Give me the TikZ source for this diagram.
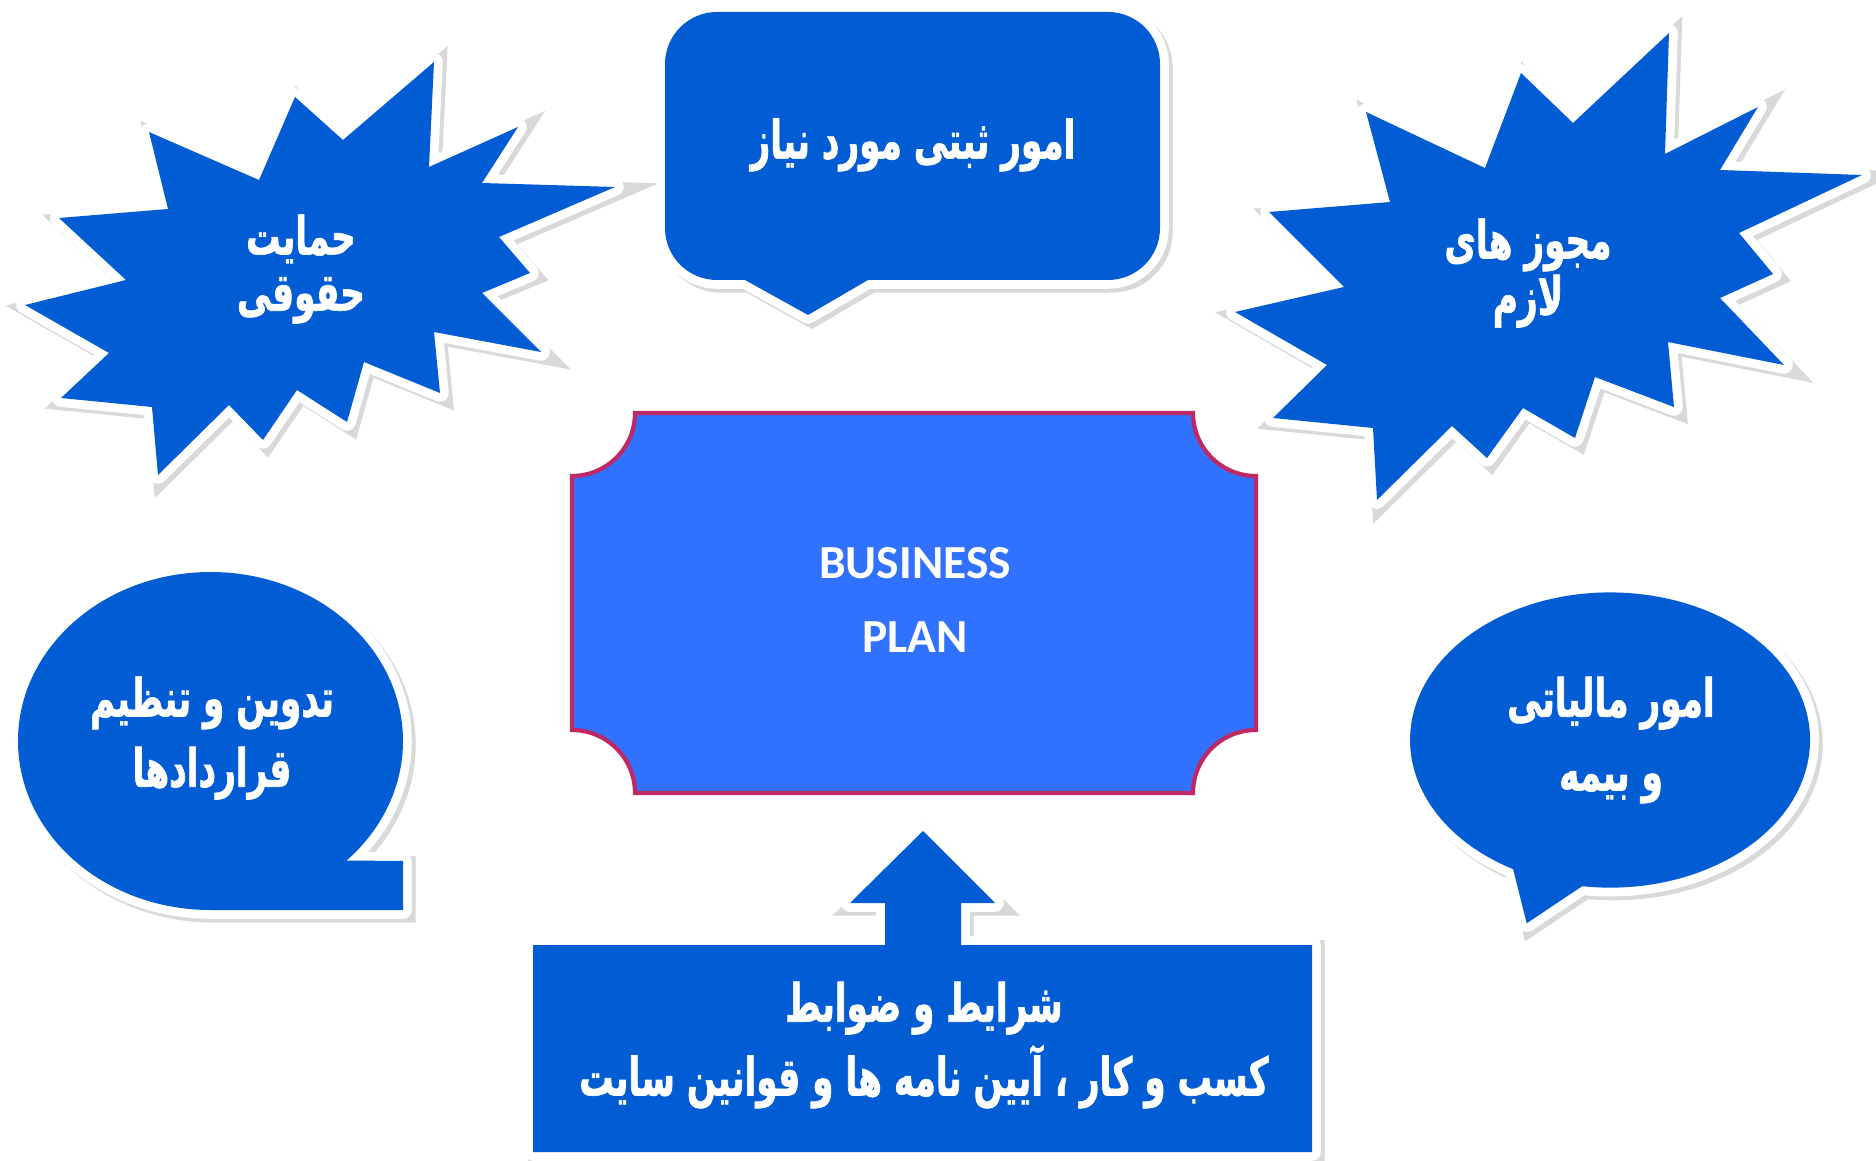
\documentclass[tikz,border=0pt]{standalone}
\usepackage{fontspec}
\usepackage{tikz}
\TeXXeTstate=1
\newfontfamily\farsifont[Script=Arabic, FakeStretch=0.65, FakeBold=1.2]{DejaVu Sans}
\newfontfamily\planfont{Carlito}
\definecolor{calloutblue}{RGB}{2,92,212}
\definecolor{plaqueblue}{RGB}{48,113,255}
\definecolor{plaquerim}{RGB}{190,40,100}

\begin{document}
\begin{tikzpicture}[
        bubble/.style={fill=calloutblue, draw=white, line width=5pt, line join=round,
            preaction={draw=black!15, fill=black!15, line width=5pt, transform canvas={xshift=1.1pt, yshift=-1.1pt}},
            postaction={fill=calloutblue}},
        plaque/.style={fill=plaqueblue, draw=plaquerim, line width=1.2pt},
        fatext/.style={text=white, align=center, font=\farsifont\bfseries\fontsize{15}{#1}\selectfont}
    ]
        \useasboundingbox (0,0) rectangle (18.76,-11.61);

        % Left burst
        \draw[bubble] (4.34,-0.62) -- (4.29,-1.67) -- (5.18,-1.27) -- (4.82,-1.83) -- (6.15,-1.87)
            -- (4.99,-2.37) -- (5.30,-2.73) -- (4.82,-2.93) -- (5.41,-3.52) -- (4.34,-3.32)
            -- (4.40,-3.93) -- (3.64,-3.62) -- (3.47,-4.22) -- (2.97,-3.90) -- (2.63,-4.40)
            -- (2.29,-4.05) -- (1.58,-4.75) -- (1.52,-4.07) -- (0.61,-3.98) -- (1.09,-3.53)
            -- (0.25,-3.05) -- (1.26,-2.80) -- (0.59,-2.18) -- (1.68,-2.09) -- (1.49,-1.32)
            -- (2.59,-1.80) -- (2.95,-0.97) -- (3.43,-1.40) -- cycle;
        \node[fatext=16] (legal) at (3.01,-2.69) {\beginR حمایت\endR\\\beginR حقوقی\endR};

        % Top callout
        \draw[bubble] (7.45,-2.80) -- (8.08,-3.15) -- (8.68,-2.80) -- (11.08,-2.80)
            arc[start angle=-90, end angle=0, radius=0.52] -- (11.60,-0.64)
            arc[start angle=0, end angle=90, radius=0.52] -- (7.17,-0.12)
            arc[start angle=90, end angle=180, radius=0.52] -- (6.65,-2.28)
            arc[start angle=180, end angle=270, radius=0.52] -- cycle;
        \node[fatext=16] (registry) at (9.13,-1.45) {\beginR امور ثبتی مورد نیاز\endR};

        % Right burst
        \draw[bubble] (16.69,-0.33) -- (16.65,-1.54) -- (17.58,-1.07) -- (17.20,-1.70) -- (18.62,-1.75)
            -- (17.39,-2.33) -- (17.73,-2.74) -- (17.20,-2.98) -- (17.84,-3.65) -- (16.68,-3.42)
            -- (16.74,-4.07) -- (15.95,-3.77) -- (15.75,-4.38) -- (15.23,-4.08) -- (14.87,-4.58)
            -- (14.52,-4.26) -- (13.77,-5.00) -- (13.73,-4.28) -- (12.73,-4.18) -- (13.27,-3.65)
            -- (12.35,-3.12) -- (13.44,-2.87) -- (12.69,-2.12) -- (13.90,-2.02) -- (13.66,-1.12)
            -- (14.85,-1.68) -- (15.21,-0.73) -- (15.73,-1.23) -- cycle;
        \node[fatext=16] (permits) at (15.28,-2.73) {\beginR مجوز های\endR\\\beginR لازم\endR};

        % Left bubble
        \draw[bubble] (2.105,-9.10) arc[start angle=-90, end angle=-405, x radius=1.925, y radius=1.69]
            -- (4.03,-8.61) -- (4.03,-9.10) -- cycle;
        \node[fatext=20] (contracts) at (2.12,-7.38) {\beginR تدوین و تنظیم\endR\\\beginR قراردادها\endR};

        % Right bubble
        \draw[bubble] (15.822,-8.862) arc[start angle=262, end angle=601, x radius=2.00, y radius=1.476]
            -- (15.267,-9.233) -- cycle;
        \node[fatext=21] (tax) at (16.11,-7.40) {\beginR امور مالیاتی\endR\\\beginR و بیمه\endR};

        % Bottom arrow box
        \draw[bubble] (5.33,-11.52) -- (5.33,-9.45) -- (8.85,-9.45) -- (8.85,-9.03) -- (8.50,-9.03)
            -- (9.23,-8.31) -- (9.95,-9.03) -- (9.61,-9.03) -- (9.61,-9.45) -- (13.12,-9.45)
            -- (13.12,-11.52) -- cycle;
        \node[fatext=21] (rules) at (9.24,-10.45) {\beginR شرایط و ضوابط\endR\\\beginR کسب و کار ، آیین نامه ها و قوانین سایت\endR};

        % Centre plaque
        \draw[plaque] (5.72,-4.76) arc[start angle=-90, end angle=0, radius=0.63] -- (11.93,-4.13)
            arc[start angle=180, end angle=270, radius=0.63] -- (12.56,-7.30)
            arc[start angle=90, end angle=180, radius=0.63] -- (6.35,-7.93)
            arc[start angle=0, end angle=90, radius=0.63] -- cycle;
        \node[text=white, align=center, font=\planfont\bfseries\fontsize{13.5}{21.3}\selectfont] (plan) at (9.15,-6.00) {BUSINESS\\PLAN};
    \end{tikzpicture}
\end{document}
